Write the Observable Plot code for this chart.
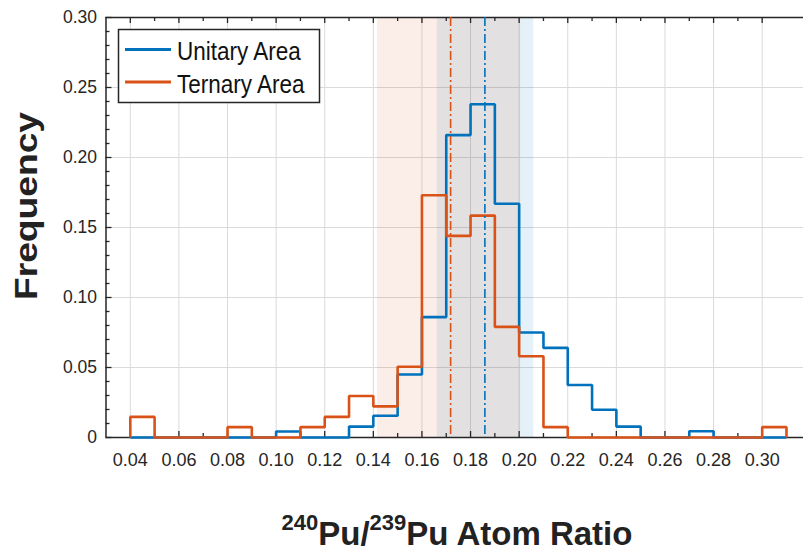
<!DOCTYPE html>
<html><head><meta charset="utf-8">
<script src="https://cdn.jsdelivr.net/npm/d3@7"></script>
<script src="https://cdn.jsdelivr.net/npm/@observablehq/plot@0.6"></script>
<style>html,body{margin:0;padding:0;background:#fff;overflow:hidden}</style>
</head><body><div id="chart"></div>
<script>
// ---- data ----
const binStarts = [0.04,0.05,0.06,0.07,0.08,0.09,0.10,0.11,0.12,0.13,0.14,0.15,0.16,0.17,0.18,0.19,0.20,0.21,0.22,0.23,0.24,0.25,0.26,0.27,0.28,0.29,0.30];
const binWidth = 0.01;
const unitary = [0,0,0,0,0,0,0.0043,0,0,0.0078,0.0155,0.045,0.086,0.216,0.238,0.167,0.075,0.064,0.0375,0.0198,0.0078,0,0,0.0045,0,0,0];
const ternary = [0.0147,0,0,0,0.0074,0,0,0.0074,0.0147,0.0296,0.0222,0.0505,0.173,0.144,0.1585,0.079,0.058,0.0074,0,0,0,0,0,0,0,0,0.0074];
const seriesNames = ["Unitary Area","Ternary Area"];
const seriesColors = ["#0072BD","#D95319"];
const bandLow = [0.1663, 0.1417];
const bandHigh = [0.2060, 0.2006];
const meanValues = [0.1859, 0.1718];
const xTickLabels = [0.04,0.06,0.08,0.10,0.12,0.14,0.16,0.18,0.20,0.22,0.24,0.26,0.28,0.30];
const xMinorTicks = [0.05,0.07,0.09,0.11,0.13,0.15,0.17,0.19,0.21,0.23,0.25,0.27,0.29];
const yTickLabels = [0,0.05,0.10,0.15,0.20,0.25,0.30];
const yMinorTicks = [0.01,0.02,0.03,0.04,0.06,0.07,0.08,0.09,0.11,0.12,0.13,0.14,0.16,0.17,0.18,0.19,0.21,0.22,0.23,0.24,0.26,0.27,0.28,0.29];

// ---- derived tables ----
function stairs(vals, name) {
  const pts = [{x: binStarts[0], y: 0, name}];
  vals.forEach((v, i) => pts.push({x: binStarts[i], y: v, name}));
  const end = binStarts[binStarts.length - 1] + binWidth;
  pts.push({x: end, y: vals[vals.length - 1], name});
  pts.push({x: end, y: 0, name});
  return pts;
}
const uniLine = stairs(unitary, seriesNames[0]);
const terLine = stairs(ternary, seriesNames[1]);
const bands = seriesNames.map((n, i) => ({name: n, lo: bandLow[i], hi: bandHigh[i], color: seriesColors[i]}));
const means = seriesNames.map((n, i) => ({name: n, x: meanValues[i], color: seriesColors[i]}));

const W = 803, H = 552, mL = 105.5, mT = 17, mB = 115, mR = 0;
const frameH = H - mT - mB, frameW = W - mL - mR;
const ink = "#262626";
const font = "'Liberation Sans', Arial, sans-serif";

const svg = Plot.plot({
  width: W, height: H,
  marginLeft: mL, marginTop: mT, marginBottom: mB, marginRight: mR,
  style: {fontFamily: font, color: ink, background: "#fff", overflow: "visible"},
  x: {domain: [0.03, 0.317], axis: null},
  y: {domain: [0, 0.30], axis: null},
  marks: [
    Plot.gridX(xTickLabels, {stroke: "#dadada", strokeOpacity: 1, strokeWidth: 1}),
    Plot.gridY(yTickLabels, {stroke: "#dadada", strokeOpacity: 1, strokeWidth: 1}),
    Plot.rect(bands.slice(0, 1), {x1: "lo", x2: "hi", fill: "color", fillOpacity: 0.1}),
    Plot.rect(bands.slice(1, 2), {x1: "lo", x2: "hi", fill: "color", fillOpacity: 0.1}),
    // frame
    Plot.ruleY([0.30], {stroke: ink, strokeWidth: 1.5}),
    Plot.ruleY([0], {stroke: ink, strokeWidth: 1.5}),
    Plot.ruleX([0.03], {stroke: ink, strokeWidth: 1.5}),
    // inward ticks
    Plot.ruleX(xTickLabels, {stroke: ink, strokeWidth: 1.3, insetTop: frameH - 6}),
    Plot.ruleX(xTickLabels, {stroke: ink, strokeWidth: 1.3, insetBottom: frameH - 6}),
    Plot.ruleX(xMinorTicks, {stroke: ink, strokeWidth: 1.3, insetTop: frameH - 4}),
    Plot.ruleX(xMinorTicks, {stroke: ink, strokeWidth: 1.3, insetBottom: frameH - 4}),
    Plot.ruleY(yTickLabels, {stroke: ink, strokeWidth: 1.3, insetRight: frameW - 6}),
    Plot.ruleY(yMinorTicks, {stroke: ink, strokeWidth: 1.3, insetRight: frameW - 4}),
    // tick labels
    Plot.axisX(xTickLabels, {anchor: "bottom", tickSize: 0, tickPadding: 16, fontSize: 18, fill: ink,
      tickFormat: d => d.toFixed(2), label: null}),
    Plot.axisY(yTickLabels, {anchor: "left", tickSize: 0, tickPadding: 9, fontSize: 17.5, fill: ink,
      tickFormat: d => d === 0 ? "0" : d.toFixed(2), label: null}),
    // histograms
    Plot.line(uniLine, {x: "x", y: "y", curve: "step-after", stroke: seriesColors[0], strokeWidth: 2.6, strokeLinejoin: "miter", strokeLinecap: "butt"}),
    Plot.line(terLine, {x: "x", y: "y", curve: "step-after", stroke: seriesColors[1], strokeWidth: 2.6, strokeLinejoin: "miter", strokeLinecap: "butt"}),
    // mean lines
    Plot.ruleX(means, {x: "x", stroke: "color", strokeWidth: 1.6, strokeDasharray: "9,3,2,3"})
  ]
});

const s = d3.select(svg);
// legend
const lg = s.append("g").attr("font-family", font).attr("text-anchor", "start");
lg.append("rect").attr("x", 118.5).attr("y", 29.5).attr("width", 201).attr("height", 73)
  .attr("fill", "#fff").attr("stroke", ink).attr("stroke-width", 1.5);
seriesNames.forEach((n, i) => {
  const cy = 49.5 + i * 32.5;
  lg.append("line").attr("x1", 125).attr("x2", 171).attr("y1", cy).attr("y2", cy)
    .attr("stroke", seriesColors[i]).attr("stroke-width", 3);
  lg.append("text").attr("text-anchor", "start").attr("transform", `translate(177,${cy + 10.5}) scale(0.9,1)`)
    .attr("font-size", 25).attr("fill", "#111").text(n);
});
// y label
s.append("text").attr("transform", "translate(37,206) rotate(-90) scale(1.2,1)")
  .attr("text-anchor", "middle").attr("font-family", font).attr("font-weight", "bold")
  .attr("font-size", 31).attr("fill", "#222").text("Frequency");
// x label with superscripts
const xl = s.append("text").attr("x", 457).attr("y", 545).attr("text-anchor", "middle")
  .attr("font-family", font).attr("font-weight", "bold").attr("font-size", 33).attr("fill", "#222");
xl.append("tspan").attr("font-size", 22).attr("dy", -15).text("240");
xl.append("tspan").attr("dy", 15).text("Pu/");
xl.append("tspan").attr("font-size", 22).attr("dy", -15).text("239");
xl.append("tspan").attr("dy", 15).text("Pu Atom Ratio");

document.getElementById("chart").appendChild(svg);
</script></body></html>
